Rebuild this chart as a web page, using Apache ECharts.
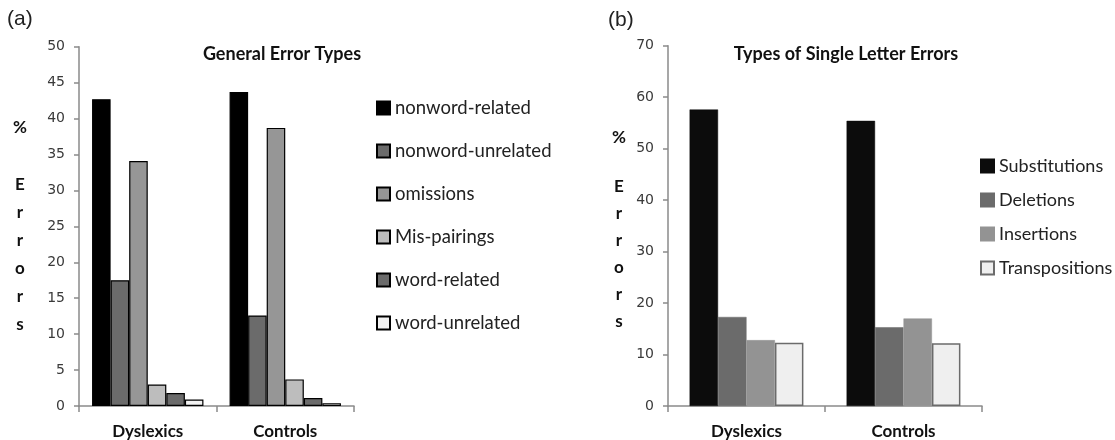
<!DOCTYPE html>
<html><head><meta charset="utf-8">
<script src="https://cdn.jsdelivr.net/npm/echarts@6/dist/echarts.min.js"></script>
<style>html,body{margin:0;padding:0;background:#fff}#c{width:1115px;height:440px}</style>
</head><body><div id="c"></div>
<script>
const groups = ['Dyslexics', 'Controls'];
const typesA = ['nonword-related', 'nonword-unrelated', 'omissions', 'Mis-pairings', 'word-related', 'word-unrelated'];
const valuesA = [
  [42.7, 43.7],
  [17.5, 12.6],
  [34.1, 38.7],
  [3.0, 3.7],
  [1.8, 1.1],
  [0.9, 0.4]
];
const typesB = ['Substitutions', 'Deletions', 'Insertions', 'Transpositions'];
const valuesB = [
  [57.6, 55.4],
  [17.3, 15.3],
  [12.8, 17.0],
  [12.3, 12.2]
];
const ticksA = [0, 50, 5];
const ticksB = [0, 70, 10];

const colorsA = ['#000000', '#6b6b6b', '#969696', '#bdbdbd', '#6b6b6b', '#f2f2f2'];
const colorsB = ['#0c0c0c', '#6b6b6b', '#939393', '#efefef'];
const bordersB = ['#0c0c0c', '#6b6b6b', '#939393', '#6b6b6b'];

const chart = echarts.init(document.getElementById('c'));
const axisGray = '#8a8a8a';
function xAx(gi) {
  return {
    type: 'category', gridIndex: gi, data: groups,
    axisLine: {lineStyle: {color: axisGray, width: 1.5}},
    axisTick: {show: true, length: 6, lineStyle: {color: axisGray, width: 1.5}},
    axisLabel: {margin: 17, fontFamily: 'Lato', fontWeight: 'bold', fontSize: 17, color: '#111'}
  };
}
function yAx(gi, t) {
  return {
    type: 'value', gridIndex: gi, min: t[0], max: t[1], interval: t[2],
    splitLine: {show: false},
    axisLine: {show: true, lineStyle: {color: axisGray, width: 1.5}},
    axisTick: {show: true, length: 5, lineStyle: {color: axisGray, width: 1.5}},
    axisLabel: {margin: 14, fontFamily: 'DejaVu Sans', fontSize: 14, color: '#3a3a3a'}
  };
}
const series = [];
typesA.forEach((n, i) => series.push({
  name: n, type: 'bar', xAxisIndex: 0, yAxisIndex: 0, data: valuesA[i],
  barGap: '0%', barCategoryGap: '19%',
  itemStyle: {color: colorsA[i], borderColor: '#000', borderWidth: 1.2},
  emphasis: {disabled: true}
}));
typesB.forEach((n, i) => series.push({
  name: n, type: 'bar', xAxisIndex: 1, yAxisIndex: 1, data: valuesB[i],
  barGap: '0%', barCategoryGap: '27.5%',
  itemStyle: {color: colorsB[i], borderColor: bordersB[i], borderWidth: i === 3 ? 1.5 : 0.5},
  emphasis: {disabled: true}
}));

chart.setOption({
  animation: false,
  grid: [
    {left: 79, top: 46.7, width: 275, bottom: 34},
    {left: 668, top: 45.7, width: 314, bottom: 34}
  ],
  xAxis: [xAx(0), xAx(1)],
  yAxis: [yAx(0, ticksA), yAx(1, ticksB)],
  legend: [
    {data: typesA, orient: 'vertical', left: 376, top: 98, padding: 0, itemWidth: 13, itemHeight: 13, itemGap: 23,
     icon: 'rect', selectedMode: false,
     textStyle: {fontFamily: 'Lato', fontSize: 18.5, lineHeight: 20, color: '#222'}},
    {data: typesB, orient: 'vertical', left: 980, top: 156, padding: 0, itemWidth: 13, itemHeight: 13, itemGap: 14,
     icon: 'rect', selectedMode: false,
     textStyle: {fontFamily: 'Lato', fontSize: 18, lineHeight: 20, color: '#222'}}
  ],
  graphic: [
    {type: 'text', left: 7, top: 9, style: {text: '(a)', font: '21px "Liberation Sans"', fill: '#222'}},
    {type: 'text', left: 608, top: 10, style: {text: '(b)', font: '21px "Liberation Sans"', fill: '#222'}},
    {type: 'text', x: 282, y: 54, style: {text: 'General Error Types', font: 'bold 18px Lato', fill: '#111', align: 'center', verticalAlign: 'middle'}},
    {type: 'text', x: 846, y: 54, style: {text: 'Types of Single Letter Errors', font: 'bold 18px Lato', fill: '#111', align: 'center', verticalAlign: 'middle'}},
    {type: 'text', x: 20, y: 128, style: {text: '%', font: 'bold 17px Lato', fill: '#111', align: 'center', verticalAlign: 'middle'}},
    {type: 'text', x: 20, y: 171, style: {text: 'E\nr\nr\no\nr\ns', font: 'bold 17px Lato', lineHeight: 28, fill: '#111', align: 'center', verticalAlign: 'top'}},
    {type: 'text', x: 619, y: 138, style: {text: '%', font: 'bold 17px Lato', fill: '#111', align: 'center', verticalAlign: 'middle'}},
    {type: 'text', x: 619, y: 173.5, style: {text: 'E\nr\nr\no\nr\ns', font: 'bold 17px Lato', lineHeight: 27, fill: '#111', align: 'center', verticalAlign: 'top'}}
  ],
  series: series
});
</script></body></html>
